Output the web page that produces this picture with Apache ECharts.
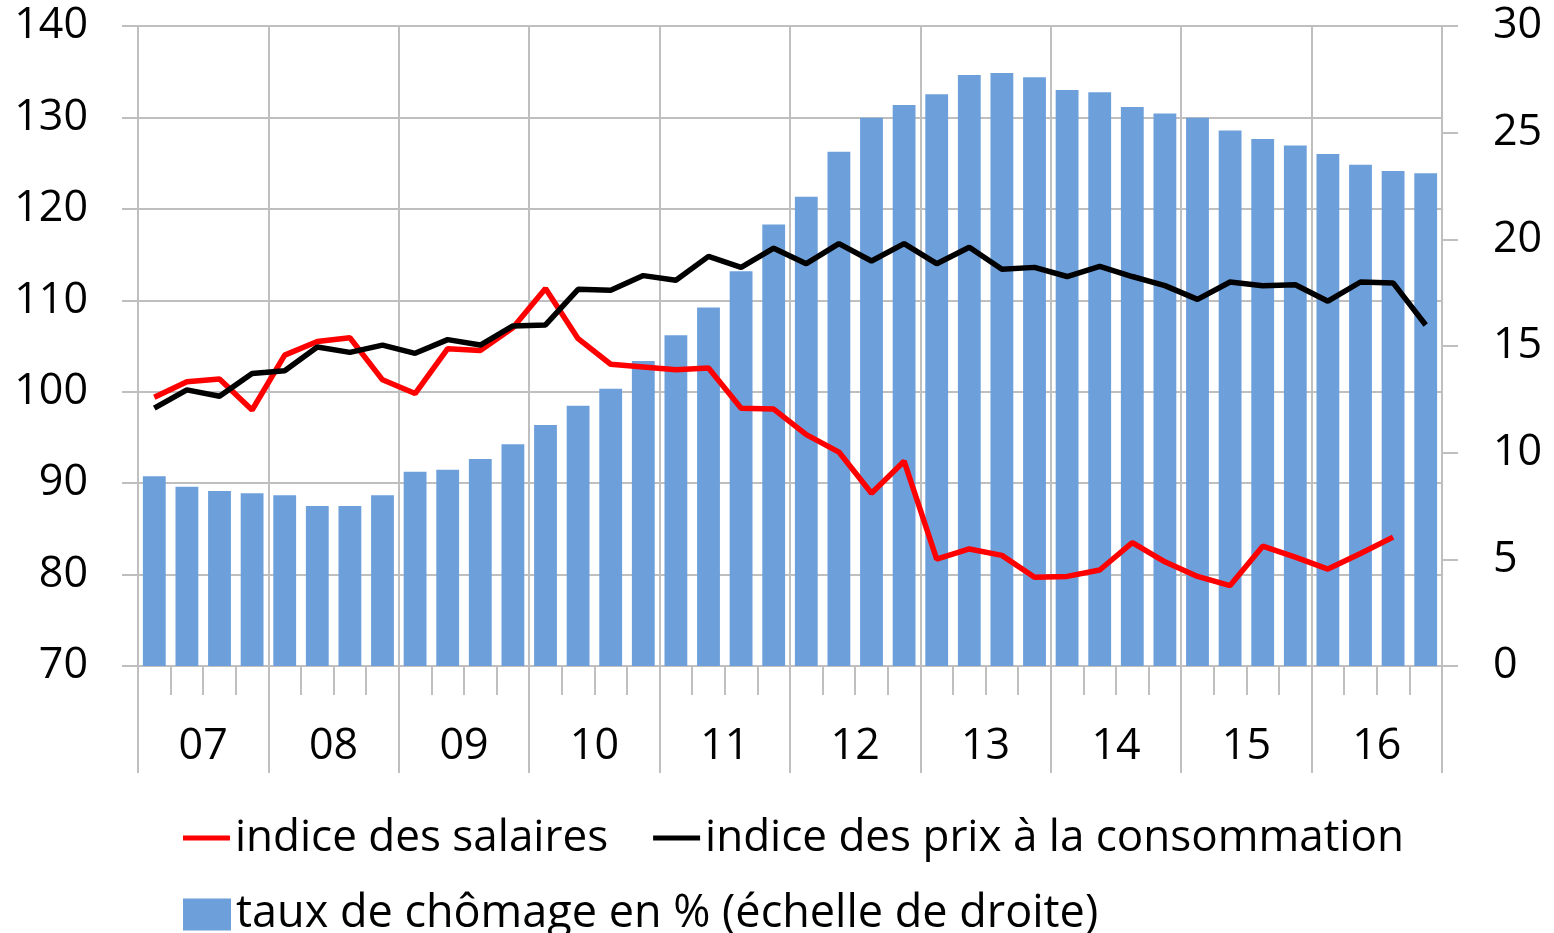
<!DOCTYPE html>
<html lang="fr">
<head>
  <meta charset="UTF-8">
  <title>Salaires, prix et chômage</title>
  <script src="https://cdn.jsdelivr.net/npm/echarts@6/dist/echarts.min.js"></script>
  <style>
    html, body { margin: 0; padding: 0; background: #fff; }
  </style>
</head>
<body>
  <div id="main" style="width: 1554px;height:933px;"></div>
  <script>
    // données trimestrielles 2007T1 - 2016T4
    var years = ['07', '08', '09', '10', '11', '12', '13', '14', '15', '16'];
    var quarters = [];
    years.forEach(function (y) {
      for (var q = 1; q <= 4; q++) quarters.push(y + 'T' + q);
    });

    var chomage = [8.9, 8.4, 8.2, 8.1, 8.0, 7.5, 7.5, 8.0, 9.1, 9.2,
      9.7, 10.4, 11.3, 12.2, 13.0, 14.3, 15.5, 16.8, 18.5, 20.7,
      22.0, 24.1, 25.7, 26.3, 26.8, 27.7, 27.8, 27.6, 27.0, 26.9,
      26.2, 25.9, 25.7, 25.1, 24.7, 24.4, 24.0, 23.5, 23.2, 23.1];

    var salaires = [99.4, 101.1, 101.4, 98.0, 104.0, 105.5, 105.9, 101.3, 99.8, 104.7,
      104.5, 107.0, 111.3, 105.8, 103.0, 102.7, 102.4, 102.6, 98.2, 98.1,
      95.3, 93.4, 88.9, 92.4, 81.7, 82.8, 82.1, 79.7, 79.8, 80.5,
      83.5, 81.4, 79.8, 78.8, 83.1, 81.9, 80.6, 82.3, 84.1, null];

    var prix = [98.2, 100.2, 99.5, 102.0, 102.3, 104.9, 104.3, 105.1, 104.2, 105.7,
      105.1, 107.2, 107.3, 111.2, 111.1, 112.7, 112.2, 114.8, 113.6, 115.7,
      114.0, 116.2, 114.3, 116.2, 114.0, 115.8, 113.4, 113.6, 112.6, 113.7,
      112.6, 111.6, 110.1, 112.0, 111.6, 111.7, 109.9, 112.0, 111.9, 107.3];

    var names = ['indice des salaires', 'indice des prix à la consommation',
      'taux de chômage en % (échelle de droite)'];

    var gris = '#bfbfbf';
    var police = '"Open Sans"';
    var taille = 43;

    var myChart = echarts.init(document.getElementById('main'));

    var option = {
      animation: false,
      textStyle: { fontFamily: police },
      grid: { left: 138, right: 112, top: 26, bottom: 267 },
      legend: [
        {
          data: [names[0], names[1]],
          left: 183, top: 816, padding: 0,
          icon: 'rect', itemWidth: 47, itemHeight: 5, itemGap: 45,
          textStyle: { fontSize: 44, color: '#000', fontFamily: police }
        },
        {
          data: [names[2]],
          left: 183, top: 892, padding: 0,
          icon: 'rect', itemWidth: 48, itemHeight: 32,
          textStyle: { fontSize: 45, color: '#000', fontFamily: police }
        }
      ],
      xAxis: [
        {
          type: 'category', data: quarters, position: 'bottom',
          axisLine: { show: true, lineStyle: { color: gris, width: 2 } },
          axisTick: { show: true, interval: 0, length: 29, lineStyle: { color: gris, width: 2 } },
          axisLabel: { show: false },
          splitLine: { show: false }
        },
        {
          type: 'category', data: years, position: 'bottom',
          axisLine: { show: false },
          axisTick: { show: true, interval: 0, length: 107, lineStyle: { color: gris, width: 2 } },
          axisLabel: { interval: 0, fontSize: taille, color: '#000', margin: 59, fontFamily: police },
          splitLine: { show: true, interval: 0, lineStyle: { color: gris, width: 2 } }
        }
      ],
      yAxis: [
        {
          type: 'value', min: 70, max: 140, interval: 10, position: 'left',
          axisLine: { show: false },
          axisTick: { show: true, length: 16, lineStyle: { color: gris, width: 2 } },
          axisLabel: { fontSize: taille, color: '#000', margin: 50, fontFamily: police },
          splitLine: { show: true, lineStyle: { color: gris, width: 2 } }
        },
        {
          type: 'value', min: 0, max: 30, interval: 5, position: 'right',
          axisLine: { show: true, lineStyle: { color: gris, width: 2 } },
          axisTick: { show: true, length: 16, lineStyle: { color: gris, width: 2 } },
          axisLabel: { fontSize: taille, color: '#000', margin: 51, fontFamily: police },
          splitLine: { show: false }
        }
      ],
      series: [
        {
          name: names[2], type: 'bar', data: chomage,
          xAxisIndex: 0, yAxisIndex: 1,
          barWidth: '70%',
          itemStyle: { color: '#6d9fdb' }
        },
        {
          name: names[0], type: 'line', data: salaires,
          xAxisIndex: 0, yAxisIndex: 0,
          symbol: 'none',
          lineStyle: { color: '#ff0000', width: 5.5 },
          itemStyle: { color: '#ff0000' }
        },
        {
          name: names[1], type: 'line', data: prix,
          xAxisIndex: 0, yAxisIndex: 0,
          symbol: 'none',
          lineStyle: { color: '#000000', width: 5.5 },
          itemStyle: { color: '#000000' }
        }
      ]
    };

    myChart.setOption(option);
  </script>
</body>
</html>
